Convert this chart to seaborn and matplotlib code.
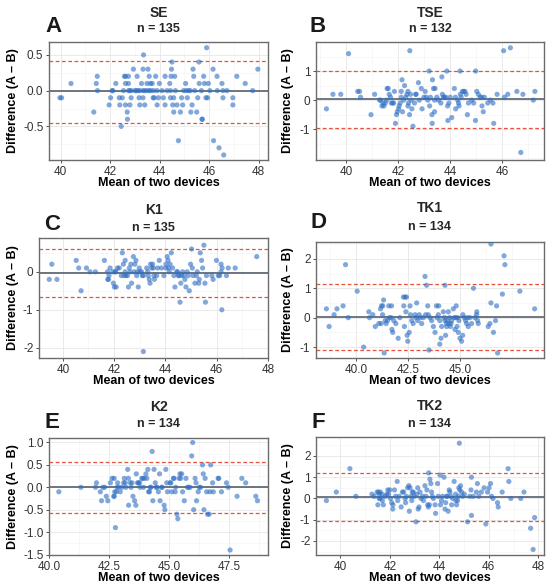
import matplotlib
matplotlib.use("Agg")
import matplotlib.pyplot as plt
from matplotlib.ticker import FormatStrFormatter, AutoMinorLocator
import pandas as pd
import seaborn as sns

# A. (mean of two devices, difference A - B)
se_points = [
    (39.97, -0.1), (40.04, -0.1), (40.42, 0.1), (41.34, -0.3), (41.44, 0.1), (41.48, 0.2), (41.49, 0.0),
    (41.96, -0.2), (42.02, -0.1), (42.08, 0.0), (42.11, 0.0), (42.23, 0.1), (42.37, -0.1), (42.39, -0.2),
    (42.45, -0.5), (42.49, -0.1), (42.54, 0.0), (42.58, 0.2), (42.62, 0.2), (42.62, 0.1), (42.62, -0.2),
    (42.69, -0.3), (42.70, -0.4), (42.74, 0.1), (42.74, 0.0), (42.74, 0.2), (42.80, -0.2), (42.80, 0.0),
    (42.85, -0.1), (42.85, 0.0), (42.94, 0.3), (43.00, 0.0), (43.06, 0.0), (43.09, 0.2), (43.13, 0.0),
    (43.17, -0.1), (43.20, -0.2), (43.20, 0.0), (43.27, 0.1), (43.33, 0.3), (43.33, 0.0), (43.33, -0.1),
    (43.35, 0.5), (43.40, -0.2), (43.40, 0.0), (43.49, 0.1), (43.49, 0.0), (43.53, 0.3), (43.58, 0.2),
    (43.58, 0.0), (43.63, 0.1), (43.65, 0.0), (43.70, 0.1), (43.74, -0.1), (43.76, 0.0), (43.78, -0.1),
    (43.84, 0.2), (43.90, -0.2), (43.90, 0.0), (43.95, -0.1), (43.99, 0.1), (44.10, 0.0), (44.15, -0.1),
    (44.22, 0.2), (44.22, -0.2), (44.30, 0.0), (44.41, 0.1), (44.44, -0.1), (44.44, 0.0), (44.46, 0.2),
    (44.48, 0.3), (44.50, 0.4), (44.53, -0.2), (44.57, -0.3), (44.57, -0.1), (44.61, 0.2), (44.64, 0.0),
    (44.70, -0.2), (44.76, -0.7), (44.84, -0.3), (44.89, -0.1), (44.93, -0.2), (44.97, 0.0), (45.05, 0.1),
    (45.08, 0.0), (45.12, -0.1), (45.17, 0.0), (45.24, 0.0), (45.26, -0.3), (45.31, -0.2), (45.35, 0.3),
    (45.38, 0.2), (45.42, 0.0), (45.50, -0.3), (45.54, -0.1), (45.59, 0.4), (45.60, 0.1), (45.69, 0.0),
    (45.71, -0.4), (45.73, -0.4), (45.78, 0.2), (45.81, 0.1), (45.87, -0.1), (45.90, 0.6), (45.94, -0.1),
    (45.97, 0.1), (46.03, 0.0), (46.16, 0.3), (46.18, -0.7), (46.32, 0.2), (46.33, 0.0), (46.40, -0.8),
    (46.52, 0.1), (46.56, 0.0), (46.56, -0.1), (46.59, -0.9), (46.72, 0.0), (46.96, -0.1), (46.96, -0.2),
    (47.12, 0.2), (47.46, 0.1), (47.76, 0.0), (47.97, 0.3),
]

tse_points = [
    (39.25, -0.3), (39.50, 0.2), (39.80, 0.2), (40.10, 1.6), (40.45, 0.3), (40.52, 0.3), (40.56, 0.1),
    (40.96, -0.5), (41.10, 0.2), (41.29, 0.0), (41.33, 0.0), (41.38, -0.2), (41.42, -0.1), (41.46, -0.2),
    (41.51, -0.1), (41.56, 0.0), (41.58, 0.4), (41.62, 0.4), (41.66, 0.2), (41.71, 0.1), (41.74, -0.1),
    (41.79, -0.1), (41.83, -0.1), (41.86, 0.3), (41.90, -0.8), (41.94, -0.5), (41.97, -0.4), (42.02, -0.3),
    (42.04, -0.2), (42.08, -0.1), (42.12, 0.1), (42.12, 0.3), (42.15, 0.7), (42.17, -0.4), (42.21, 0.0),
    (42.25, 0.5), (42.30, 0.1), (42.34, 0.2), (42.38, -0.2), (42.38, 0.3), (42.40, -0.1), (42.44, -0.5),
    (42.45, 1.7), (42.48, 0.2), (42.50, 0.0), (42.53, -0.3), (42.57, -0.9), (42.63, -0.1), (42.68, 0.2),
    (42.69, 0.2), (42.78, 0.6), (42.81, 0.0), (42.89, 0.4), (42.92, -0.3), (42.99, 0.1), (43.04, 0.3),
    (43.08, 0.1), (43.14, 0.0), (43.19, 1.0), (43.21, -0.2), (43.24, 0.1), (43.30, -0.5), (43.31, -0.8),
    (43.32, 0.7), (43.36, 0.4), (43.40, -0.4), (43.40, 0.0), (43.42, 0.4), (43.49, 0.1), (43.55, 0.0),
    (43.64, -0.1), (43.68, 0.8), (43.70, 0.2), (43.74, 0.1), (43.78, 0.1), (43.83, 0.1), (43.87, 1.0),
    (43.90, -0.2), (43.91, -0.7), (43.95, -0.1), (44.00, 0.1), (44.06, -0.6), (44.16, 0.4), (44.20, 0.1),
    (44.21, -0.3), (44.29, 0.0), (44.32, -0.1), (44.34, -0.2), (44.38, 1.0), (44.39, 0.2), (44.42, 0.1),
    (44.47, 0.3), (44.52, 0.3), (44.57, 0.3), (44.61, 0.2), (44.66, -0.5), (44.70, -0.1), (44.83, 0.0),
    (44.90, -0.1), (44.97, -0.7), (44.98, 1.0), (45.02, 0.3), (45.08, 0.2), (45.15, 0.1), (45.21, 0.1),
    (45.22, -0.2), (45.27, -0.4), (45.31, 0.1), (45.44, -0.1), (45.54, 0.0), (45.64, -0.1), (45.67, -0.8),
    (45.80, 0.2), (46.05, 1.7), (46.08, 0.1), (46.21, 0.2), (46.31, 1.8), (46.56, 0.3), (46.71, -1.8),
    (46.79, 0.2), (47.19, 0.0), (47.25, 0.3),
]

k1_points = [
    (39.47, -0.2), (39.57, 0.2), (39.77, -0.2), (40.52, 0.3), (40.62, 0.1), (40.71, -0.5), (40.92, 0.1),
    (41.06, 0.0), (41.27, 0.0), (41.62, 0.3), (41.74, 0.0), (41.75, -0.2), (41.78, -0.2), (41.80, -0.1),
    (41.84, 0.1), (41.95, 0.0), (41.97, -0.3), (42.01, -0.4), (42.08, -0.4), (42.04, 0.0), (42.06, 0.0),
    (42.13, 0.1), (42.20, 0.1), (42.28, -0.1), (42.32, 0.5), (42.36, 0.2), (42.39, -0.1), (42.43, 0.0),
    (42.43, 0.3), (42.46, -0.1), (42.52, -0.1), (42.56, -0.4), (42.59, 0.1), (42.62, 0.0), (42.65, 0.2),
    (42.68, -0.3), (42.75, 0.4), (42.78, 0.0), (42.81, 0.2), (42.85, 0.3), (42.88, -0.1), (42.91, 0.0),
    (42.94, -0.4), (42.98, 0.1), (43.01, 0.0), (43.07, 0.0), (43.10, -0.1), (43.14, -0.1), (43.14, -2.1),
    (43.27, 0.1), (43.31, 0.0), (43.33, -0.1), (43.37, -0.2), (43.40, -0.3), (43.42, 0.2), (43.46, 0.1),
    (43.50, 0.2), (43.53, 0.1), (43.55, -0.1), (43.57, -0.2), (43.66, -0.1), (43.70, 0.1), (43.76, 0.3),
    (43.85, 0.1), (43.94, -0.1), (44.02, 0.2), (44.02, 0.1), (44.07, 0.4), (44.10, 0.3), (44.12, 0.1),
    (44.15, 0.0), (44.18, 0.2), (44.23, 0.5), (44.28, 0.1), (44.33, -0.1), (44.37, -0.4), (44.44, 0.0),
    (44.47, 0.0), (44.50, -0.1), (44.53, -0.1), (44.57, -0.8), (44.60, -0.3), (44.63, -0.1), (44.67, 0.0),
    (44.72, -0.1), (44.76, -0.2), (44.80, -0.4), (44.85, 0.0), (44.89, -0.1), (44.93, -0.5), (44.98, 0.2),
    (45.02, 0.6), (45.05, 0.1), (45.08, -0.1), (45.15, -0.3), (45.21, -0.1), (45.24, 0.0), (45.30, -0.3),
    (45.32, -0.2), (45.36, 0.5), (45.41, 0.3), (45.45, 0.1), (45.50, 0.7), (45.54, -0.3), (45.56, -0.8),
    (45.60, -0.1), (45.81, -0.1), (45.86, -0.2), (45.99, 0.3), (46.06, -0.1), (46.12, -0.1), (46.17, 0.2),
    (46.17, 0.0), (46.20, -1.0), (46.21, 0.1), (46.38, -0.1), (46.45, 0.1), (46.72, 0.1), (47.56, 0.4),
]

tk1_points = [
    (38.58, 0.3), (38.71, -0.3), (38.95, 0.1), (39.09, 0.3), (39.38, 0.4), (39.50, 1.8), (39.63, 0.0),
    (40.06, 0.9), (40.37, -1.0), (40.62, 0.2), (40.65, 0.0), (40.81, 0.1), (40.93, -0.3), (41.10, -0.2),
    (41.18, 0.3), (41.21, -0.2), (41.23, 0.4), (41.28, 0.1), (41.29, 0.4), (41.33, 0.6), (41.36, -1.2),
    (41.41, -0.1), (41.45, -0.2), (41.52, -0.1), (41.58, 0.4), (41.61, 0.0), (41.69, 0.0), (41.71, 0.4),
    (41.73, -0.4), (41.77, -0.5), (41.82, -0.1), (41.92, -0.2), (42.03, -0.7), (42.11, 0.0), (42.28, 0.7),
    (42.30, 0.4), (42.33, -0.3), (42.36, 0.7), (42.40, 0.2), (42.43, 0.7), (42.46, -0.6), (42.49, -0.8),
    (42.56, -0.5), (42.60, 0.4), (42.62, 0.1), (42.68, -0.1), (42.75, -0.2), (42.84, 0.1), (42.89, 0.0),
    (42.92, 0.5), (42.97, -0.1), (43.04, 0.1), (43.10, 0.0), (43.16, -0.2), (43.24, 0.0), (43.32, 1.4),
    (43.35, 0.1), (43.40, 1.1), (43.45, 0.4), (43.48, 0.1), (43.51, -1.1), (43.56, 0.0), (43.64, -0.1),
    (43.72, -0.3), (43.80, -0.5), (43.87, 0.4), (43.90, 0.0), (43.96, 0.1), (43.98, 0.4), (44.03, -0.1),
    (44.09, -0.7), (44.12, -0.3), (44.03, -0.9), (44.20, 0.2), (44.25, 0.0), (44.28, -0.1), (44.28, 1.1),
    (44.31, -0.6), (44.35, -0.2), (44.36, -0.3), (44.39, -0.1), (44.44, 0.2), (44.47, -0.2), (44.50, 0.0),
    (44.54, -0.3), (44.57, -0.2), (44.60, -0.1), (44.68, 0.3), (44.73, 0.0), (44.76, -0.4), (44.79, 0.0),
    (44.82, 0.4), (44.86, -0.3), (44.89, 0.0), (44.92, -0.5), (44.95, -0.1), (45.00, -0.7), (45.08, -0.8),
    (45.13, -0.6), (45.14, 0.1), (45.21, 0.0), (45.27, -0.1), (45.32, -0.2), (45.37, 0.0), (45.40, -0.3),
    (45.48, 0.0), (45.56, -0.2), (45.65, 1.0), (45.72, 0.0), (45.80, 0.1), (45.81, 0.2), (45.85, -0.1),
    (45.88, -0.2), (46.36, -0.3), (46.44, -0.2), (46.49, 0.5), (46.49, 2.5), (46.61, -0.5), (46.71, -0.1),
    (46.76, 0.4), (46.81, -1.2), (47.04, 0.8), (47.12, 2.1), (47.16, 1.8), (47.88, 0.9), (48.59, 0.3),
]

k2_points = [
    (40.41, -0.1), (41.33, 0.0), (41.94, 0.0), (41.98, 0.1), (42.14, -0.1), (42.19, -0.3), (42.25, 0.0),
    (42.32, 0.0), (42.39, -0.2), (42.45, -0.3), (42.56, 0.1), (42.63, 0.2), (42.72, 0.2), (42.70, -0.2),
    (42.72, -0.2), (42.74, -0.1), (42.77, -0.9), (42.81, -0.1), (42.84, 0.0), (42.86, 0.1), (42.90, 0.0),
    (42.97, -0.1), (43.04, 0.0), (43.11, 0.1), (43.14, 0.2), (43.18, 0.1), (43.20, 0.0), (43.28, 0.4),
    (43.32, -0.4), (43.31, 0.2), (43.39, 0.1), (43.42, 0.0), (43.46, 0.1), (43.50, -0.2), (43.57, -0.3),
    (43.62, -0.4), (43.64, 0.3), (43.69, 0.1), (43.73, 0.1), (43.78, 0.1), (43.80, 0.0), (43.87, 0.2),
    (43.91, 0.2), (43.94, 0.0), (43.97, 0.2), (44.04, 0.3), (44.08, 0.2), (44.12, 0.4), (44.15, -0.1),
    (44.19, -0.1), (44.22, 0.0), (44.25, 0.0), (44.30, 0.8), (44.33, -0.3), (44.38, 0.4), (44.43, 0.1),
    (44.47, 0.0), (44.50, 0.0), (44.56, -0.1), (44.61, 0.3), (44.63, -0.3), (44.69, 0.0), (44.72, 0.0),
    (44.80, -0.4), (44.83, -0.5), (44.87, 0.4), (44.91, 0.1), (44.94, -0.1), (45.05, 0.1), (45.08, 0.1),
    (45.12, -0.1), (45.19, 0.2), (45.21, 0.2), (45.26, -0.1), (45.28, 0.0), (45.33, -0.6), (45.37, -0.7),
    (45.42, 0.2), (45.46, 0.3), (45.49, 0.2), (45.53, 0.3), (45.57, -0.1), (45.64, -0.3), (45.71, 0.2),
    (45.77, 0.0), (45.82, 0.0), (45.88, 0.0), (45.95, 0.7), (45.99, 1.0), (46.03, -0.5), (46.09, 0.2),
    (46.13, 0.1), (46.15, -0.3), (46.22, -0.1), (46.27, 0.0), (46.32, 0.0), (46.40, 0.5), (46.43, 0.3),
    (46.46, -0.5), (46.51, 0.2), (46.57, -0.1), (46.61, -0.6), (46.68, -0.6), (46.71, -0.1), (46.74, 0.5),
    (46.82, 0.1), (46.85, -0.1), (47.05, 0.2), (47.08, 0.2), (47.19, -0.1), (47.40, 0.1), (47.47, 0.0),
    (47.55, -1.4), (47.84, -0.2), (48.04, 0.2), (48.20, 0.1), (48.62, -0.2), (48.69, -0.3),
]

tk2_points = [
    (39.44, -0.1), (39.84, 0.3), (40.39, 1.4), (40.63, 0.1), (41.28, 0.2), (41.37, 0.1), (41.49, 0.3),
    (41.52, -0.3), (41.54, 0.3), (41.57, 0.0), (41.58, 0.2), (41.61, 0.0), (41.62, 0.3), (41.68, 0.2),
    (41.70, -0.1), (41.74, -0.3), (41.81, 0.1), (41.88, 0.2), (41.92, 0.4), (41.95, 0.2), (42.00, 0.4),
    (42.03, 0.0), (42.08, -0.2), (42.12, -0.5), (42.13, -0.3), (42.19, 0.4), (42.24, 0.1), (42.30, 0.8),
    (42.32, -0.1), (42.38, 0.1), (42.46, -0.4), (42.51, 0.3), (42.56, 0.3), (42.62, 0.0), (42.64, -0.2),
    (42.67, 0.1), (42.72, 0.5), (42.77, 0.6), (42.79, -0.6), (42.82, 0.5), (42.86, 0.1), (42.89, -0.1),
    (42.91, 0.3), (42.95, 0.3), (42.99, 0.1), (43.06, -1.1), (43.09, 0.2), (43.13, 0.5), (43.15, -0.5),
    (43.18, -0.4), (43.22, 0.3), (43.26, 0.0), (43.32, 0.1), (43.36, -0.1), (43.42, 0.6), (43.46, 0.1),
    (43.50, 0.4), (43.53, -0.3), (43.56, -0.4), (43.57, 1.2), (43.60, -0.3), (43.62, 0.9), (43.66, 0.7),
    (43.69, 0.3), (43.72, 0.1), (43.76, 0.0), (43.83, -0.3), (43.85, -0.7), (43.93, 0.7), (43.96, 0.1),
    (44.03, 1.1), (44.05, -0.3), (44.09, -0.1), (44.13, 0.1), (44.19, 1.0), (44.23, -0.5), (44.26, -0.2),
    (44.30, 0.1), (44.32, 0.1), (44.36, -0.6), (44.40, 0.4), (44.43, 0.3), (44.47, 0.1), (44.50, -0.3),
    (44.54, 0.0), (44.60, 0.8), (44.66, 0.2), (44.67, -0.1), (44.70, -0.3), (44.74, -0.1), (44.77, 0.1),
    (44.79, 0.5), (44.81, 2.6), (44.83, 0.4), (44.86, 0.6), (44.90, 0.3), (44.94, 0.1), (45.01, 0.2),
    (45.14, -1.1), (45.23, 0.1), (45.28, 0.4), (45.30, -0.8), (45.30, 1.0), (45.37, 0.1), (45.50, 0.3),
    (45.54, 0.7), (45.60, 0.1), (45.70, 0.3), (45.81, 0.5), (45.88, -1.2), (45.95, 0.3), (46.01, 0.5),
    (46.07, 0.7), (46.11, 0.1), (46.17, 0.0), (46.35, -0.2), (46.38, -0.4), (46.54, 0.3), (46.78, 1.4),
    (46.81, 0.8), (46.89, 0.0), (47.29, 0.0), (47.42, 0.3), (47.69, -1.4), (47.79, -2.4), (47.85, -0.9),
]

# Bias and limits of agreement in each panel
panel_titles = ["SE", "TSE", "K1", "TK1", "K2", "TK2"]
panel_n = [135, 132, 135, 134, 134, 134]
panel_letters = ["A", "B", "C", "D", "E", "F"]
bias = [-0.01, 0.03, -0.035, 0.025, 0.0, 0.07]
upper_loa = [0.42, 1.0, 0.6, 1.14, 0.56, 1.18]
lower_loa = [-0.45, -0.95, -0.67, -1.09, -0.58, -1.04]
x_ticks = [[40, 42, 44, 46, 48], [40, 42, 44, 46], [40, 42, 44, 46, 48],
           [40, 42.5, 45], [40, 42.5, 45, 47.5], [40, 42, 44, 46, 48]]
y_ticks = [[-0.5, 0, 0.5], [-1, 0, 1], [-2, -1, 0],
           [-1, 0, 1, 2], [-1.5, -1.0, -0.5, 0, 0.5, 1.0], [-2, -1, 0, 1, 2]]

# Layout (pixels in a 550 x 588 figure) and axis ranges
W, H = 550, 588
boxes = [(49, 42, 268, 160), (316, 42, 544, 160), (39, 238, 268, 358),
         (316, 242, 544, 358), (49, 438, 268, 555), (316, 437, 544, 555)]
x_lims = [(39.53, 48.38), (38.85, 47.6), (39.07, 48.0), (38.08, 49.04), (40.04, 49.13), (39.02, 48.23)]
y_lims = [(-0.97, 0.68), (-2.06, 2.0), (-2.27, 0.89), (-1.37, 2.57), (-1.51, 1.1), (-2.66, 2.89)]
x_fmt = ["%d", "%d", "%d", "%.1f", "%.1f", "%d"]
y_fmt = ["%.1f", "%d", "%d", "%d", "%.1f", "%d"]
letter_pos = [(53, 26), (318, 26), (52, 224), (318, 223), (52, 423), (318, 422)]
title_y = [(13, 29), (13, 29), (210, 228), (208, 227), (407, 424), (406, 424)]
ylabel_x = [13, 288, 13, 288, 13, 288]

POINT_COLOR = "#2f6fc4"
MEAN_COLOR = "#56606b"
LOA_COLOR = "#e5533d"

sns.set_theme(style="white")
plt.rcParams["font.family"] = ["Liberation Sans", "DejaVu Sans"]
plt.rcParams["axes.unicode_minus"] = False

all_points = [se_points, tse_points, k1_points, tk1_points, k2_points, tk2_points]


# B. Bland-Altman panel
def ba_panel(fig, i):
    l, t, r, b = boxes[i]
    ax = fig.add_axes([l / W, 1 - b / H, (r - l) / W, (b - t) / H])

    # Scatter of the paired measurements
    df = pd.DataFrame(all_points[i], columns=["mean", "diff"])
    sns.scatterplot(data=df, x="mean", y="diff", ax=ax, color=POINT_COLOR,
                    alpha=0.6, s=14, edgecolor="none", linewidth=0, zorder=3)

    # Bias and limits of agreement
    ax.axhline(bias[i], color=MEAN_COLOR, lw=1.2, zorder=2)
    for v in (upper_loa[i], lower_loa[i]):
        ax.axhline(v, color=LOA_COLOR, lw=0.9, ls=(0, (3, 2)), zorder=2)

    ax.set_xlim(*x_lims[i])
    ax.set_ylim(*y_lims[i])
    ax.set_xticks(x_ticks[i])
    ax.set_yticks(y_ticks[i])
    ax.xaxis.set_major_formatter(FormatStrFormatter(x_fmt[i]))
    ax.yaxis.set_major_formatter(FormatStrFormatter(y_fmt[i]))
    ax.xaxis.set_minor_locator(AutoMinorLocator(2))
    ax.yaxis.set_minor_locator(AutoMinorLocator(2))

    # ggplot-like theme
    ax.set_facecolor("white")
    ax.grid(True, which="major", color="#e6e6e6", lw=0.6, zorder=0)
    ax.grid(True, which="minor", color="#f3f3f3", lw=0.4, zorder=0)
    ax.set_axisbelow(True)
    for sp in ax.spines.values():
        sp.set_visible(True)
        sp.set_color("#6b6b6b")
        sp.set_linewidth(1.0)
    ax.tick_params(which="major", direction="out", length=2.5, width=0.6,
                   color="#333333", labelcolor="#333333", labelsize=8.5, pad=1.5,
                   bottom=True, left=True)
    ax.tick_params(which="minor", length=0)

    # Labels
    ax.set_xlabel("Mean of two devices", fontsize=9, fontweight="bold", color="black")
    ax.set_ylabel("Difference (A \u2013 B)", fontsize=9, fontweight="bold", color="black")
    ax.xaxis.set_label_coords(0.5, -23 / (b - t))
    ax.xaxis.label.set_va("center")
    ax.yaxis.set_label_coords((ylabel_x[i] - l) / (r - l), 0.5)
    ax.yaxis.label.set_va("center")

    cx = (l + r) / 2 / W
    fig.text(cx, 1 - title_y[i][0] / H, panel_titles[i], ha="center", va="center",
             fontsize=10, fontweight="bold")
    fig.text(cx, 1 - title_y[i][1] / H, "n = %d" % panel_n[i], ha="center", va="center",
             fontsize=9, fontweight="bold")
    lx, ly = letter_pos[i]
    fig.text(lx / W, 1 - ly / H, panel_letters[i], ha="center", va="center",
             fontsize=16, fontweight="bold", color="#1a1a1a")
    return ax


fig = plt.figure(figsize=(W / 100, H / 100), dpi=100)
fig.patch.set_facecolor("white")
for i in range(6):
    ba_panel(fig, i)

fig.savefig("out.png", dpi=100, facecolor="white")
